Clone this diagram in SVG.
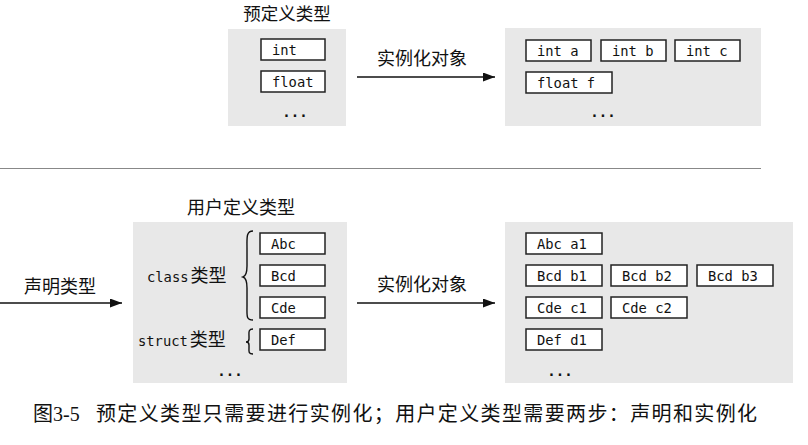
<svg xmlns="http://www.w3.org/2000/svg" width="808" height="445" viewBox="0 0 808 445">
<style>
.panel{fill:#e8e8e8;stroke:none}
.box{fill:#fff;stroke:#222;stroke-width:1.5}
.mono{font-family:"DejaVu Sans Mono","Liberation Mono",monospace;font-size:13.8px;fill:#111}
.dots{font-family:"DejaVu Sans Mono",monospace;font-size:14px;font-weight:bold;fill:#111;text-anchor:middle}
.cn{font-family:"Noto Sans CJK SC",sans-serif;font-size:18px;fill:#111}
.mid{text-anchor:middle}
.cap{font-family:"Liberation Serif","Noto Sans CJK SC",serif;font-size:20px;fill:#111}
.conn{stroke:#111;stroke-width:1.5;fill:none}
.brace{stroke:#111;stroke-width:1.4;fill:none}
</style>
<defs>
<marker id="ah" markerUnits="userSpaceOnUse" markerWidth="13" markerHeight="10" refX="12" refY="4.5" orient="auto">
<path d="M0,0 L12,4.5 L0,9 Z" fill="#111"/>
</marker>
</defs>
<rect width="808" height="445" fill="#fff"/>

<g id="predefined">
<text class="cn mid" x="287" y="20" style="font-size:17.5px">预定义类型</text>
<rect class="panel" x="228" y="29" width="118" height="97"/>
<g id="int"><rect class="box" x="261" y="39" width="64" height="21"/><text class="mono" x="272" y="55">int</text></g>
<g id="float"><rect class="box" x="261" y="71" width="64" height="21"/><text class="mono" x="272" y="87">float</text></g>
<text class="dots" x="295" y="117">...</text>
</g>

<g id="predefined-objects">
<rect class="panel" x="505" y="28" width="256" height="98"/>
<g id="int-a"><rect class="box" x="526" y="40" width="65" height="21"/><text class="mono" x="537" y="56">int a</text></g>
<g id="int-b"><rect class="box" x="601" y="40" width="65" height="21"/><text class="mono" x="612" y="56">int b</text></g>
<g id="int-c"><rect class="box" x="675" y="40" width="65" height="21"/><text class="mono" x="686" y="56">int c</text></g>
<g id="float-f"><rect class="box" x="526" y="72" width="86" height="21"/><text class="mono" x="537" y="88">float f</text></g>
<text class="dots" x="603" y="117">...</text>
</g>

<line x1="0" y1="168.5" x2="761" y2="168.5" stroke="#888" stroke-width="1.2"/>

<g id="user-defined">
<text class="cn mid" x="241" y="214">用户定义类型</text>
<rect class="panel" x="133" y="222" width="214" height="161"/>
<text x="147" y="282"><tspan class="mono">class</tspan><tspan class="cn" dx="2">类型</tspan></text>
<text x="138" y="346"><tspan class="mono">struct</tspan><tspan class="cn" dx="2">类型</tspan></text>
<path class="brace" d="M253,231 C246,231 247,238 247,248 L247,266 C247,273 246,276 243,277 C246,278 247,281 247,288 L247,306 C247,316 246,320 253,320"/>
<path class="brace" d="M253,329 C248,329 249,333 249,336 L249,339 C249,341 248,342 246,342 C248,342 249,343 249,345 L249,348 C249,351 248,354 253,354"/>
<g id="Abc"><rect class="box" x="260" y="233" width="65" height="21"/><text class="mono" x="271" y="249">Abc</text></g>
<g id="Bcd"><rect class="box" x="260" y="265" width="65" height="21"/><text class="mono" x="271" y="281">Bcd</text></g>
<g id="Cde"><rect class="box" x="260" y="297" width="65" height="21"/><text class="mono" x="271" y="313">Cde</text></g>
<g id="Def"><rect class="box" x="260" y="329" width="65" height="21"/><text class="mono" x="271" y="345">Def</text></g>
<text class="dots" x="230" y="376">...</text>
</g>

<g id="user-objects">
<rect class="panel" x="505" y="222" width="288" height="161"/>
<g id="Abc-a1"><rect class="box" x="526" y="233" width="76" height="21"/><text class="mono" x="537" y="249">Abc a1</text></g>
<g id="Bcd-b1"><rect class="box" x="526" y="265" width="76" height="21"/><text class="mono" x="537" y="281">Bcd b1</text></g>
<g id="Bcd-b2"><rect class="box" x="611" y="265" width="76" height="21"/><text class="mono" x="622" y="281">Bcd b2</text></g>
<g id="Bcd-b3"><rect class="box" x="697" y="265" width="76" height="21"/><text class="mono" x="708" y="281">Bcd b3</text></g>
<g id="Cde-c1"><rect class="box" x="526" y="297" width="76" height="21"/><text class="mono" x="537" y="313">Cde c1</text></g>
<g id="Cde-c2"><rect class="box" x="611" y="297" width="76" height="21"/><text class="mono" x="622" y="313">Cde c2</text></g>
<g id="Def-d1"><rect class="box" x="526" y="329" width="76" height="21"/><text class="mono" x="537" y="345">Def d1</text></g>
<text class="dots" x="560" y="376">...</text>
</g>

<g id="connectors">
<line class="conn" x1="357" y1="77" x2="495" y2="77" marker-end="url(#ah)"/>
<text class="cn mid" x="422" y="65">实例化对象</text>
<line class="conn" x1="0" y1="303" x2="122" y2="303" marker-end="url(#ah)"/>
<text class="cn mid" x="60" y="293">声明类型</text>
<line class="conn" x1="357" y1="303" x2="495" y2="303" marker-end="url(#ah)"/>
<text class="cn mid" x="422" y="291">实例化对象</text>
</g>

<g id="caption">
<text class="cap" x="33" y="421">图3-5</text>
<text class="cap" x="96" y="421" textLength="661" lengthAdjust="spacing">预定义类型只需要进行实例化；用户定义类型需要两步：声明和实例化</text>
</g>
</svg>
